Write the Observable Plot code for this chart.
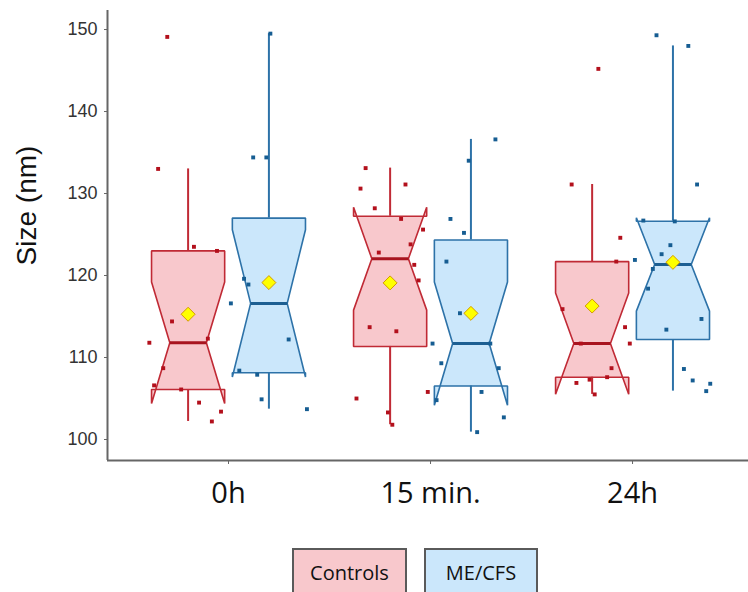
<!DOCTYPE html>
<html>
<head>
<meta charset="utf-8">
<script src="https://cdn.jsdelivr.net/npm/d3@7"></script>
<script src="https://cdn.jsdelivr.net/npm/@observablehq/plot@0.6"></script>
<style>
  html, body { margin: 0; padding: 0; background: #fff; overflow: hidden; }
  #wrap { width: 748px; height: 592px; position: relative; }
  #legend { position: relative; height: 72px; }
  .lg { position: absolute; top: 28px; height: 48px; box-sizing: border-box; border: 2px solid #5a5a5a;
        font-family: "Open Sans", sans-serif; font-size: 20px; color: #111;
        display: flex; align-items: center; justify-content: center; }
</style>
</head>
<body>
<div id="wrap">
  <div id="chart"></div>
  <div id="legend"></div>
</div>
<script>
// ---- data ----
const times = ["0h", "15 min.", "24h"];
const groups = ["Controls", "ME/CFS"];
const yTicks = [100, 110, 120, 130, 140, 150];
const yLabel = "Size (nm)";

// values (nm) per time point and group
const controls_0h  = [149.1, 133.0, 123.5, 123.0, 114.4, 111.8, 112.3, 108.7, 106.6, 106.1, 104.5, 103.4, 102.2];
const mecfs_0h     = [149.5, 134.4, 134.4, 119.6, 118.9, 116.6, 112.2, 108.4, 107.9, 104.9, 103.7];
const controls_15m = [133.1, 130.6, 131.1, 128.2, 126.9, 125.6, 123.8, 122.8, 121.3, 119.4, 113.7, 113.2, 105.0, 105.8, 103.3, 101.8];
const mecfs_15m    = [136.6, 134.0, 126.9, 125.2, 121.7, 115.4, 111.7, 111.7, 109.3, 108.7, 105.8, 104.8, 102.7, 100.9];
const controls_24h = [145.2, 131.1, 124.6, 121.7, 115.9, 113.7, 111.7, 111.7, 108.7, 107.6, 107.3, 106.9, 105.5];
const mecfs_24h    = [149.3, 148.0, 131.1, 126.7, 126.6, 123.7, 122.6, 121.9, 120.8, 118.4, 114.7, 113.4, 108.6, 107.2, 106.8, 105.9];

// horizontal jitter of each point, as a fraction of the box half-width
const controls_0h_jit  = [-0.57, -0.82, 0.16, 0.79, -0.44, -1.06, 0.54, -0.68, -0.93, -0.19, 0.30, 0.90, 0.65];
const mecfs_0h_jit     = [0.04, -0.43, -0.07, -0.68, -0.56, -1.04, 0.54, -0.81, -0.32, -0.20, 1.04];
const controls_15m_jit = [-0.67, -0.81, 0.42, -0.42, 0.30, 0.90, 0.56, -0.31, 0.66, 0.78, -0.56, 0.17, -0.92, 1.03, -0.06, 0.06];
const mecfs_15m_jit    = [0.67, -0.06, -0.56, -0.19, -0.67, -0.30, -1.05, 0.53, -0.81, 0.76, 0.29, -0.94, 0.90, 0.17];
const controls_24h_jit = [0.17, -0.56, 0.77, 0.66, -0.81, 0.90, 1.03, -0.31, 0.53, 0.41, -0.07, -0.43, 0.07];
const mecfs_24h_jit    = [-0.45, 0.42, 0.66, -0.81, 0.05, -0.07, -0.31, -1.04, -0.55, -0.68, 0.78, -0.18, 0.30, 0.54, 1.02, 0.91];

const series = [
  {t: 0, g: "Controls", v: controls_0h,  j: controls_0h_jit},
  {t: 0, g: "ME/CFS",   v: mecfs_0h,     j: mecfs_0h_jit},
  {t: 1, g: "Controls", v: controls_15m, j: controls_15m_jit},
  {t: 1, g: "ME/CFS",   v: mecfs_15m,    j: mecfs_15m_jit},
  {t: 2, g: "Controls", v: controls_24h, j: controls_24h_jit},
  {t: 2, g: "ME/CFS",   v: mecfs_24h,    j: mecfs_24h_jit}
];

// ---- styles / layout ----
const style = {
  "Controls": {fill: "#f8c8cc", stroke: "#c02a35", median: "#a8141f", dot: "#b3101c", off: -0.2},
  "ME/CFS":   {fill: "#cbe7fb", stroke: "#2d72a8", median: "#1d5f92", dot: "#165d92", off: 0.2}
};
const half = 0.181; // box half-width in x units

// ---- statistics ----
const boxes = series.map(s => {
  const v = s.v.slice().sort(d3.ascending);
  const q1 = d3.quantile(v, 0.25), med = d3.quantile(v, 0.5), q3 = d3.quantile(v, 0.75);
  const iqr = q3 - q1;
  const lo = d3.min(v.filter(d => d >= q1 - 1.5 * iqr));
  const hi = d3.max(v.filter(d => d <= q3 + 1.5 * iqr));
  const n = v.length;
  const notch = 1.58 * iqr / Math.sqrt(n);
  const xc = s.t + style[s.g].off;
  return {...s, q1, med, q3, lo, hi, nlo: med - notch, nhi: med + notch, mean: d3.mean(v), xc};
});

function outline(b) {
  const L = b.xc - half, R = b.xc + half, l = b.xc - half / 2, r = b.xc + half / 2;
  return [
    [L, b.q3], [L, b.nhi], [l, b.med], [L, b.nlo], [L, b.q1],
    [R, b.q1], [R, b.nlo], [r, b.med], [R, b.nhi], [R, b.q3]
  ].map(([x, y]) => ({x, y, key: b.t + b.g}));
}

const xDomain = [-0.599, 2.574];
const yDomain = [97.44, 152.32];

const marks = [];
for (const g of groups) {
  const bs = boxes.filter(b => b.g === g);
  const st = style[g];
  marks.push(Plot.line(bs.flatMap(outline), {x: "x", y: "y", z: "key", curve: "linear-closed",
    fill: st.fill, stroke: st.stroke, strokeWidth: 1.6, strokeLinejoin: "miter"}));
  marks.push(Plot.ruleX(bs, {x: "xc", y1: "q3", y2: "hi", stroke: st.stroke, strokeWidth: 2}));
  marks.push(Plot.ruleX(bs, {x: "xc", y1: "lo", y2: "q1", stroke: st.stroke, strokeWidth: 2}));
  marks.push(Plot.link(bs, {x1: b => b.xc - half / 2, x2: b => b.xc + half / 2, y1: "med", y2: "med",
    stroke: st.median, strokeWidth: 3}));
}
for (const g of groups) {
  const st = style[g];
  const pts = boxes.filter(b => b.g === g).flatMap(b => b.v.map((v, i) => ({x: b.xc + b.j[i] * half, y: v})));
  marks.push(Plot.dot(pts, {x: "x", y: "y", symbol: "square", r: 2.2, fill: st.dot}));
}
marks.push(Plot.dot(boxes, {x: "xc", y: "mean", symbol: "diamond2", r: 6.3, fill: "#ffff00", stroke: "#d39a00", strokeWidth: 1}));

// axes and frame lines
marks.push(Plot.ruleY([yDomain[0]], {stroke: "#666", strokeWidth: 2}));
marks.push(Plot.ruleX([xDomain[0]], {stroke: "#666", strokeWidth: 2}));
marks.push(Plot.axisY({ticks: yTicks, tickSize: 3, tickPadding: 7, fontSize: 18, stroke: "#666",
  fill: "#333", fontFamily: "'Liberation Sans', Arial, sans-serif", label: null}));
marks.push(Plot.axisX({ticks: [0, 1, 2], tickFormat: i => times[i], tickSize: 4, tickPadding: 18,
  fontSize: 29, fill: "#111", stroke: "#666", fontFamily: "'Open Sans', sans-serif", label: null}));
marks.push(Plot.text([yLabel], {frameAnchor: "left", text: d => d, rotate: -90, dx: -80, dy: -30,
  fontSize: 28, fill: "#111", fontFamily: "'Liberation Sans', Arial, sans-serif",
  textAnchor: "middle", lineAnchor: "middle"}));

const chart = Plot.plot({
  width: 748, height: 520,
  marginLeft: 107, marginRight: 0, marginTop: 10, marginBottom: 60,
  x: {type: "linear", domain: xDomain},
  y: {domain: yDomain},
  style: {background: "#fff", overflow: "visible"},
  marks
});
document.getElementById("chart").appendChild(chart);

// legend
const legend = document.getElementById("legend");
const lgPos = {"Controls": [292, 115], "ME/CFS": [424, 114]};
for (const g of groups) {
  const d = document.createElement("div");
  d.className = "lg";
  d.style.left = lgPos[g][0] + "px";
  d.style.width = lgPos[g][1] + "px";
  d.style.background = style[g].fill;
  d.textContent = g;
  legend.appendChild(d);
}
</script>
</body>
</html>
